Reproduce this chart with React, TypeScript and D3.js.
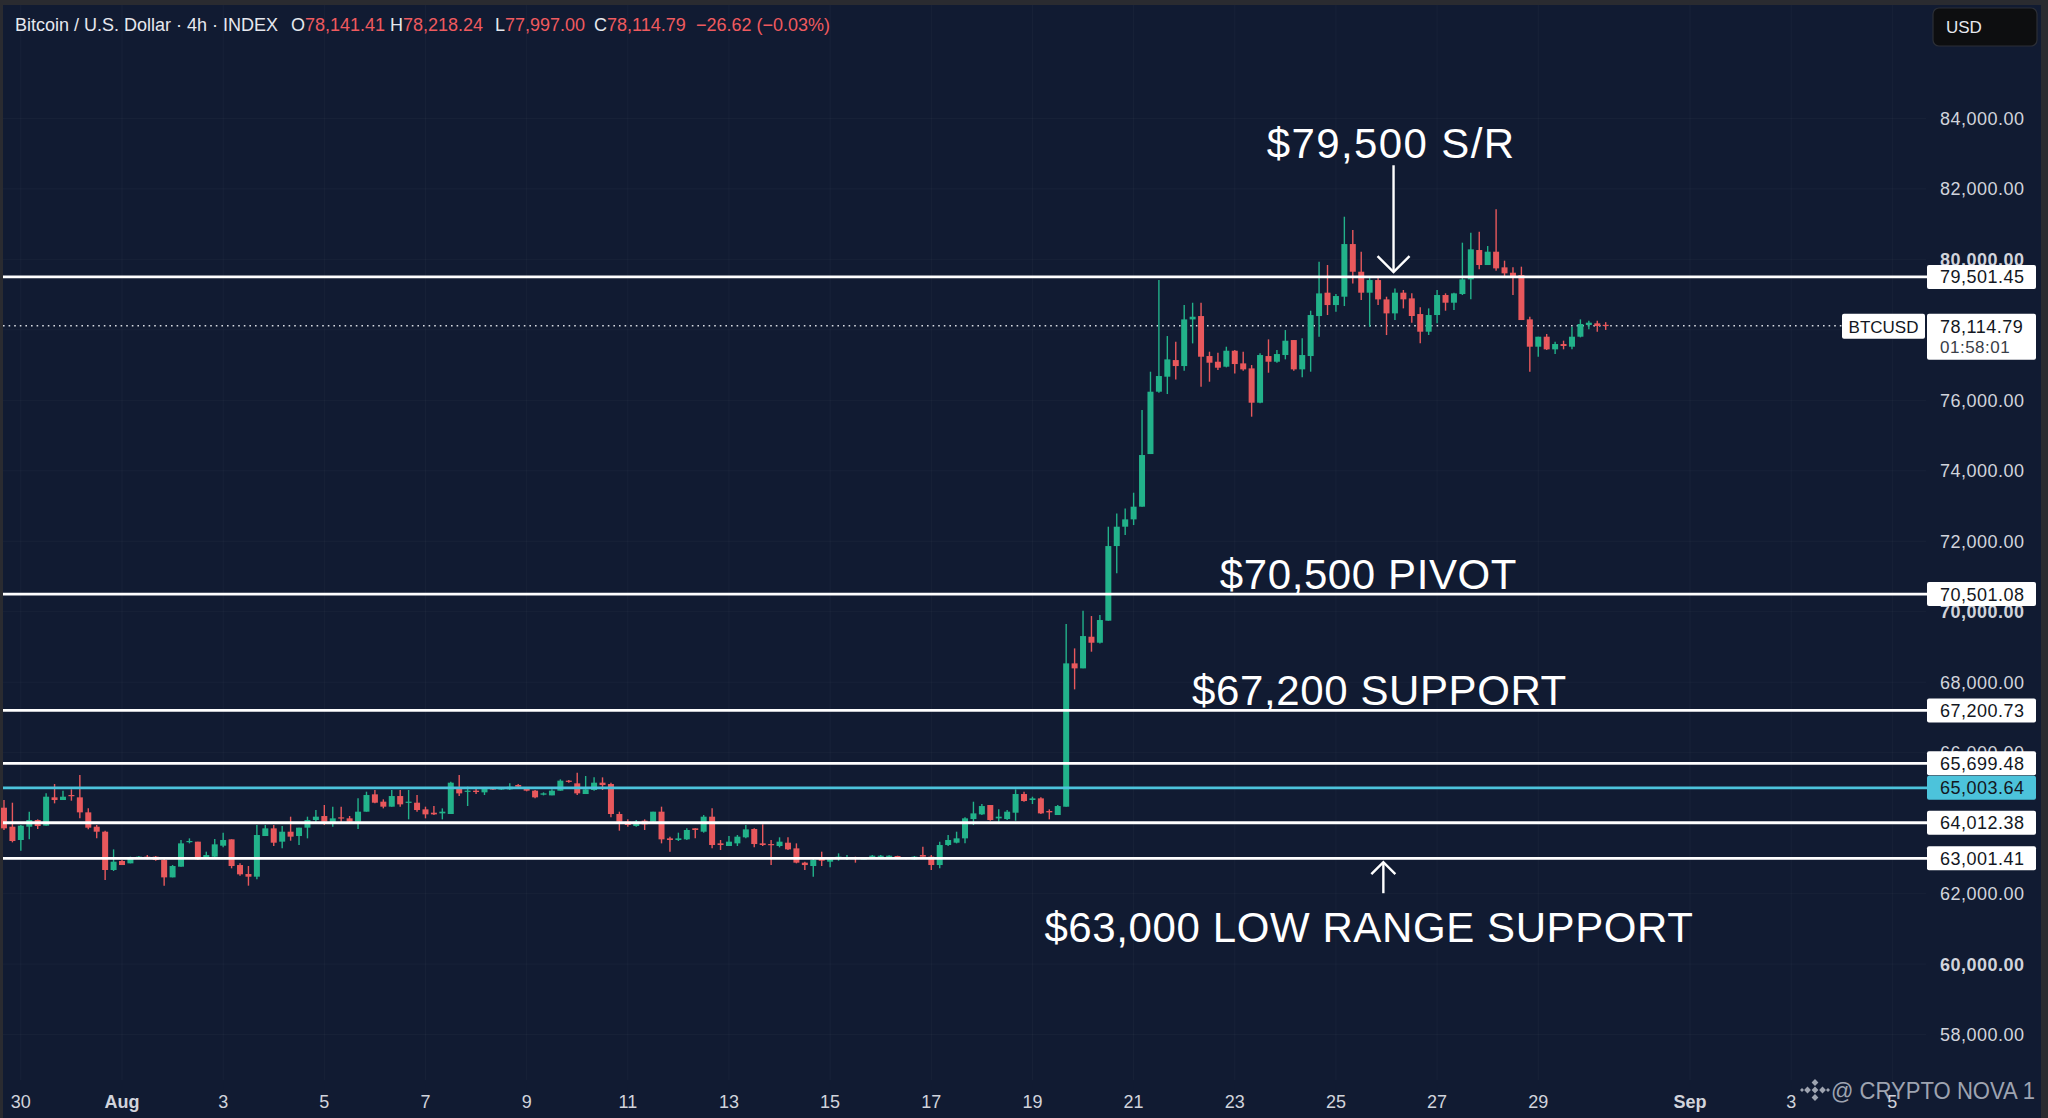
import { useEffect, useRef } from "react";
import * as d3 from "d3";

const W = 2048;
const H = 1118;

// first 4h candle on screen
const firstCandle = new Date(2024, 6, 29, 16);
const candleHours = 4;

// [open, high, low, close]
const ohlc: [number, number, number, number][] = [
  [64439, 64657, 63806, 63853], [63900, 64581, 63456, 63494], [63522, 63948, 63219, 63929], [63900, 64326, 63541, 64089],
  [64089, 64108, 63834, 63919], [63929, 64846, 63929, 64751], [64733, 65111, 64562, 64657], [64657, 64922, 64657, 64751],
  [64799, 64960, 64638, 64770], [64733, 65366, 64137, 64307], [64307, 64420, 63824, 63872], [63900, 63948, 63569, 63758],
  [63758, 63787, 62387, 62671], [62671, 63257, 62642, 62907], [62926, 62954, 62812, 62812], [62860, 63049, 62860, 63002],
  [63002, 63068, 62983, 63049], [63049, 63096, 62973, 63030], [63049, 63068, 62935, 62954], [62954, 63002, 62226, 62462],
  [62462, 62812, 62462, 62784], [62765, 63522, 62765, 63427], [63475, 63569, 63427, 63494], [63475, 63475, 62954, 62973],
  [63030, 63191, 63002, 63096], [63049, 63550, 63002, 63399], [63361, 63730, 63314, 63522], [63541, 63541, 62718, 62784],
  [62812, 62860, 62510, 62548], [62557, 62784, 62226, 62481], [62481, 63948, 62405, 63664], [63635, 63948, 63635, 63853],
  [63853, 63948, 63352, 63446], [63475, 63919, 63285, 63758], [63758, 64184, 63503, 63617], [63635, 63872, 63380, 63872],
  [63872, 64184, 63569, 64089], [64089, 64373, 63976, 64184], [64203, 64515, 63948, 64042], [64014, 64468, 63900, 64137],
  [64165, 64468, 64042, 64137], [64137, 64203, 64014, 64042], [64042, 64704, 63834, 64326], [64326, 64893, 64326, 64799],
  [64818, 64941, 64562, 64581], [64610, 64676, 64420, 64468], [64468, 64941, 64468, 64770], [64770, 64941, 64468, 64534],
  [64581, 64941, 64108, 64610], [64581, 64799, 64326, 64373], [64392, 64468, 64137, 64250], [64297, 64487, 64231, 64250],
  [64278, 64420, 64108, 64326], [64260, 65177, 64260, 65149], [64988, 65366, 64770, 64846], [64903, 65035, 64487, 64922],
  [64922, 64988, 64827, 64884], [64875, 65007, 64799, 64988], [64988, 65007, 64941, 64960], [64960, 65007, 64941, 64988],
  [64960, 65130, 64941, 65035], [65083, 65111, 65007, 65035], [64988, 65007, 64903, 64922], [64922, 64941, 64704, 64733],
  [64808, 64875, 64789, 64846], [64789, 64960, 64789, 64922], [64922, 65243, 64922, 65206], [65206, 65224, 65149, 65177],
  [65130, 65433, 64799, 64846], [64827, 65338, 64827, 64960], [64941, 65300, 64922, 65149], [65149, 65300, 64941, 65083],
  [65111, 65149, 64165, 64260], [64260, 64326, 63787, 64042], [64042, 64108, 63900, 63948], [63919, 64089, 63900, 64042],
  [64070, 64108, 63806, 63966], [64042, 64326, 64014, 64326], [64326, 64468, 63427, 63541], [63569, 63617, 63191, 63522],
  [63522, 63730, 63494, 63569], [63541, 63853, 63522, 63806], [63853, 63853, 63569, 63806], [63758, 64231, 63730, 64184],
  [64184, 64420, 63285, 63380], [63427, 63522, 63238, 63380], [63352, 63635, 63352, 63475], [63427, 63664, 63352, 63617],
  [63598, 63948, 63569, 63824], [63834, 63853, 63314, 63408], [63427, 63966, 63352, 63380], [63408, 63522, 62812, 63380],
  [63352, 63598, 63314, 63475], [63446, 63598, 63238, 63257], [63285, 63427, 62860, 62879], [62879, 62907, 62671, 62812],
  [62784, 63002, 62481, 62954], [63030, 63191, 62784, 62935], [62907, 63002, 62746, 62973], [63030, 63143, 62935, 63049],
  [63011, 63096, 62954, 63030], [63030, 63049, 62879, 63002], [62983, 63020, 62973, 63002], [63049, 63096, 63030, 63077],
  [63049, 63096, 63030, 63077], [63049, 63090, 63040, 63077], [63068, 63077, 63020, 63030], [63020, 63030, 62973, 62983],
  [62973, 63068, 62965, 63049], [63096, 63333, 63049, 63049], [63049, 63096, 62671, 62812], [62812, 63475, 62718, 63380],
  [63380, 63664, 63352, 63522], [63446, 63758, 63427, 63569], [63569, 64165, 63427, 64137], [64117, 64609, 63947, 64278],
  [64250, 64543, 64231, 64486], [64515, 64515, 64070, 64089], [64136, 64392, 64042, 64184], [64117, 64373, 64089, 64326],
  [64297, 64959, 64070, 64827], [64827, 64893, 64609, 64628], [64657, 64751, 64543, 64704], [64704, 64732, 64259, 64278],
  [64345, 64392, 64108, 64307], [64231, 64515, 64231, 64486], [64467, 69651, 64467, 68535], [68535, 68960, 67797, 68393],
  [68393, 70029, 68393, 69310], [69291, 69878, 68866, 69121], [69121, 69906, 69102, 69765], [69746, 72413, 69746, 71864],
  [71864, 72791, 71089, 72413], [72413, 72933, 72177, 72621], [72621, 73378, 72460, 72981], [72981, 75724, 72981, 74447],
  [74475, 76812, 74475, 76244], [76244, 79413, 76216, 76689], [76670, 77824, 76178, 77161], [77142, 77663, 76594, 76972],
  [76972, 78703, 76840, 78296], [78296, 78769, 77615, 78372], [78391, 78769, 76386, 77237], [77256, 77379, 76528, 77067],
  [77095, 77351, 76859, 76925], [76954, 77521, 76935, 77407], [77407, 77427, 76764, 77029], [77048, 77379, 76840, 76878],
  [76906, 77001, 75535, 75932], [75932, 77332, 75913, 77285], [77256, 77729, 76783, 77095], [77095, 77427, 77067, 77313],
  [77285, 77994, 77162, 77691], [77710, 77710, 76840, 76878], [76878, 77758, 76651, 77285], [77256, 78543, 76812, 78420],
  [78391, 79933, 77805, 79034], [79054, 79839, 78420, 78703], [78703, 79016, 78514, 78959], [78940, 81210, 78675, 80434],
  [80434, 80832, 79318, 79649], [79649, 80217, 78845, 79054], [79054, 79489, 78089, 79413], [79413, 79489, 78703, 78864],
  [78864, 78940, 77852, 78467], [78467, 79176, 78278, 79054], [79054, 79130, 78609, 78865], [78893, 79035, 78203, 78392],
  [78448, 78638, 77616, 77947], [77947, 78609, 77853, 78420], [78420, 79130, 78184, 78988], [78988, 79035, 78543, 78770],
  [78770, 79054, 78562, 79035], [79016, 80473, 78988, 79432], [79432, 80756, 78865, 80284], [80265, 80785, 79716, 79839],
  [79839, 80378, 79839, 80217], [80217, 81419, 79678, 79744], [79773, 79962, 79508, 79603], [79621, 79773, 78988, 79527],
  [79555, 79792, 78278, 78278], [78297, 78373, 76812, 77521], [77521, 77805, 77238, 77805], [77805, 77881, 77427, 77446],
  [77446, 77663, 77313, 77597], [77597, 77692, 77446, 77541], [77521, 78089, 77446, 77805], [77805, 78297, 77786, 78165],
  [78137, 78260, 78014, 78203], [78184, 78260, 77947, 78108], [78141.41, 78218.24, 77997.0, 78114.79],
];

// horizontal levels drawn on the chart
const levels = [79501.45, 70501.08, 67200.73, 65699.48, 64012.38, 63001.41];
const cyanLevel = 65003.64;
const lastPrice = 78114.79;
const countdown = "01:58:01";

const priceTicks = [58000, 60000, 62000, 64000, 66000, 68000, 70000, 72000, 74000, 76000, 78000, 80000, 82000, 84000];
const boldPriceTicks = [60000, 70000, 80000];

const dateTicks = [
  new Date(2024, 6, 30), new Date(2024, 7, 1), new Date(2024, 7, 3), new Date(2024, 7, 5), new Date(2024, 7, 7),
  new Date(2024, 7, 9), new Date(2024, 7, 11), new Date(2024, 7, 13), new Date(2024, 7, 15), new Date(2024, 7, 17),
  new Date(2024, 7, 19), new Date(2024, 7, 21), new Date(2024, 7, 23), new Date(2024, 7, 25), new Date(2024, 7, 27),
  new Date(2024, 7, 29), new Date(2024, 8, 1), new Date(2024, 8, 3), new Date(2024, 8, 5),
];
const dateLabels = ["30", "Aug", "3", "5", "7", "9", "11", "13", "15", "17", "19", "21", "23", "25", "27", "29", "Sep", "3", "5"];
const boldDateLabels = ["Aug", "Sep"];

const headerParts = [
  { label: "O", value: "78,141.41" },
  { label: "H", value: "78,218.24" },
  { label: "L", value: "77,997.00" },
  { label: "C", value: "78,114.79" },
];
const headerChange = "\u221226.62 (\u22120.03%)";

const annotations = [
  { text: "$79,500 S/R", date: new Date(2024, 7, 26, 2, 10), price: 82875 },
  { text: "$70,500 PIVOT", date: new Date(2024, 7, 25, 15, 25), price: 70640 },
  { text: "$67,200 SUPPORT", date: new Date(2024, 7, 25, 20, 40), price: 67350 },
  { text: "$63,000 LOW RANGE SUPPORT", date: new Date(2024, 7, 25, 15, 40), price: 60630 },
];
const arrows = [
  { date: new Date(2024, 7, 26, 3, 20), from: 82670, to: 79640 },
  { date: new Date(2024, 7, 25, 22, 30), from: 62012, to: 62892 },
];

const BG = "#111b32";
const UP = "#22b28a";
const DOWN = "#e8585c";
const CYAN = "#4cc3db";
const AXIS_TEXT = "#d1d4dc";
const FONT = "'Liberation Sans', Arial, sans-serif";

export default function App() {
  const svgRef = useRef<SVGSVGElement>(null);

  useEffect(() => {
    if (!svgRef.current) return;
    const svg = d3.select(svgRef.current);
    svg.selectAll("*").remove();

    const x = d3.scaleTime().domain([new Date(2024, 7, 1), new Date(2024, 8, 1)]).range([122, 1690]);
    const y = d3.scaleLinear().domain([58000, 84000]).range([1034.6, 118.4]);

    // frame + background
    svg.append("rect").attr("width", W).attr("height", H).attr("fill", "#2a2b30");
    svg.append("rect").attr("x", 3).attr("y", 5).attr("width", 2038).attr("height", H - 5).attr("fill", BG);

    // faint grid
    const grid = svg.append("g").attr("stroke", "#ffffff").attr("stroke-opacity", 0.03);
    grid.selectAll("line.v").data(dateTicks).enter().append("line")
      .attr("x1", (d) => x(d)).attr("x2", (d) => x(d)).attr("y1", 5).attr("y2", 1080);
    grid.selectAll("line.h").data(priceTicks).enter().append("line")
      .attr("x1", 3).attr("x2", 1926).attr("y1", (d) => y(d)).attr("y2", (d) => y(d));

    // last price dotted line
    svg.append("line")
      .attr("x1", 3).attr("x2", 1842).attr("y1", y(lastPrice)).attr("y2", y(lastPrice))
      .attr("stroke", "#d8dbe2").attr("stroke-width", 1.6).attr("stroke-dasharray", "1.6,4");

    // candles
    const candles = ohlc.map((c, i) => ({
      t: d3.timeHour.offset(firstCandle, i * candleHours),
      o: c[0], h: c[1], l: c[2], c: c[3],
    }));
    const cg = svg.append("g");
    const node = cg.selectAll("g").data(candles).enter().append("g");
    node.append("line")
      .attr("x1", (d) => x(d.t)).attr("x2", (d) => x(d.t))
      .attr("y1", (d) => y(d.h)).attr("y2", (d) => y(d.l))
      .attr("stroke", (d) => (d.c >= d.o ? UP : DOWN)).attr("stroke-width", 1.4);
    node.append("rect")
      .attr("x", (d) => x(d.t) - 3).attr("width", 6)
      .attr("y", (d) => y(Math.max(d.o, d.c)))
      .attr("height", (d) => Math.max(1.2, Math.abs(y(d.o) - y(d.c))))
      .attr("fill", (d) => (d.c >= d.o ? UP : DOWN));

    // level lines
    svg.selectAll("line.level").data(levels).enter().append("line")
      .attr("x1", 3).attr("x2", 1927).attr("y1", (d) => y(d)).attr("y2", (d) => y(d))
      .attr("stroke", "#ffffff").attr("stroke-width", 2.8);
    svg.append("line")
      .attr("x1", 3).attr("x2", 1927).attr("y1", y(cyanLevel)).attr("y2", y(cyanLevel))
      .attr("stroke", CYAN).attr("stroke-width", 2.8);

    // annotations
    svg.selectAll("text.ann").data(annotations).enter().append("text")
      .attr("x", (d) => x(d.date)).attr("y", (d) => y(d.price))
      .attr("text-anchor", "middle")
      .attr("fill", "#ffffff").attr("font-family", FONT).attr("font-size", 42)
      .attr("letter-spacing", (_d, i) => (i === 0 ? 1.4 : 0.6))
      .text((d) => d.text);

    arrows.forEach((a) => {
      const ax = x(a.date);
      const y0 = y(a.from);
      const y1 = y(a.to);
      const dir = y1 > y0 ? 1 : -1;
      const size = dir > 0 ? 16 : 12;
      const g = svg.append("g").attr("stroke", "#ffffff").attr("stroke-width", 2.4).attr("fill", "none");
      g.append("line").attr("x1", ax).attr("x2", ax).attr("y1", y0).attr("y2", y1);
      g.append("path").attr("d", `M${ax - size},${y1 - dir * size} L${ax},${y1} L${ax + size},${y1 - dir * size}`);
    });

    // price axis ticks
    svg.selectAll("text.pt").data(priceTicks).enter().append("text")
      .attr("x", 1940).attr("y", (d) => y(d)).attr("dy", "0.36em")
      .attr("fill", AXIS_TEXT).attr("font-family", FONT).attr("font-size", 18)
      .attr("letter-spacing", 0.5)
      .attr("font-weight", (d) => (boldPriceTicks.includes(d) ? 700 : 400))
      .text((d) => d3.format(",.2f")(d));

    // level labels
    const fmt = d3.format(",.2f");
    const boxes = [...levels.map((v) => ({ v, fill: "#ffffff" })), { v: cyanLevel, fill: CYAN }];
    boxes.forEach((b) => {
      const cy = y(b.v);
      svg.append("rect").attr("x", 1927).attr("y", cy - 12).attr("width", 109).attr("height", 24)
        .attr("rx", 2).attr("fill", b.fill);
      svg.append("text").attr("x", 1940).attr("y", cy).attr("dy", "0.36em")
        .attr("fill", "#131722").attr("font-family", FONT).attr("font-size", 18).attr("letter-spacing", 0.5)
        .text(fmt(b.v));
    });

    // last price labels
    const ly = y(lastPrice);
    svg.append("rect").attr("x", 1842).attr("y", ly - 12).attr("width", 83).attr("height", 25)
      .attr("rx", 2).attr("fill", "#ffffff");
    svg.append("text").attr("x", 1883.5).attr("y", ly + 1).attr("dy", "0.36em").attr("text-anchor", "middle")
      .attr("fill", "#131722").attr("font-family", FONT).attr("font-size", 17).text("BTCUSD");
    svg.append("rect").attr("x", 1927).attr("y", ly - 12).attr("width", 109).attr("height", 46)
      .attr("rx", 2).attr("fill", "#ffffff");
    svg.append("text").attr("x", 1940).attr("y", ly + 1).attr("dy", "0.36em")
      .attr("fill", "#131722").attr("font-family", FONT).attr("font-size", 18).attr("letter-spacing", 0.5)
      .text(fmt(lastPrice));
    svg.append("text").attr("x", 1940).attr("y", ly + 21).attr("dy", "0.36em")
      .attr("fill", "#3a3e48").attr("font-family", FONT).attr("font-size", 17).attr("letter-spacing", 0.5)
      .text(countdown);

    // date axis
    svg.selectAll("text.dt").data(dateTicks).enter().append("text")
      .attr("x", (d) => x(d)).attr("y", 1102).attr("dy", "0.36em").attr("text-anchor", "middle")
      .attr("fill", AXIS_TEXT).attr("font-family", FONT).attr("font-size", 18)
      .attr("font-weight", (_d, i) => (boldDateLabels.includes(dateLabels[i]) ? 700 : 400))
      .text((_d, i) => dateLabels[i]);

    // header legend
    const header = svg.append("text").attr("x", 15).attr("y", 31)
      .attr("font-family", FONT).attr("font-size", 18).attr("fill", "#e6e8ee");
    header.append("tspan").text("Bitcoin / U.S. Dollar \u00b7 4h \u00b7 INDEX");
    const partX = [291, 390, 495, 594];
    headerParts.forEach((p, i) => {
      header.append("tspan").attr("x", partX[i]).attr("fill", "#e6e8ee").text(p.label);
      header.append("tspan").attr("fill", "#ef5a5f").text(p.value);
    });
    header.append("tspan").attr("x", 696).attr("fill", "#ef5a5f").text(headerChange);

    // currency button
    svg.append("rect").attr("x", 1933).attr("y", 8).attr("width", 104).attr("height", 38).attr("rx", 6)
      .attr("fill", "#0d0e10").attr("stroke", "#2c2f36").attr("stroke-width", 1.2);
    svg.append("text").attr("x", 1946).attr("y", 27).attr("dy", "0.36em")
      .attr("fill", "#e6e8ee").attr("font-family", FONT).attr("font-size", 17).text("USD");

    // watermark
    const wm = svg.append("g").attr("fill", "#b7bcc7").attr("opacity", 0.85);
    const lx = 1815;
    const lyW = 1090;
    const diamond = (cx: number, cy: number, r: number) =>
      `M${cx},${cy - r} L${cx + r},${cy} L${cx},${cy + r} L${cx - r},${cy} Z`;
    wm.append("path").attr("d", diamond(lx, lyW, 3.4));
    [[0, -7.5], [7.5, 0], [0, 7.5], [-7.5, 0]].forEach(([dx, dy]) => {
      wm.append("path").attr("d", diamond(lx + dx, lyW + dy, 3.4));
    });
    wm.append("path").attr("d", diamond(lx - 13, lyW, 2));
    wm.append("path").attr("d", diamond(lx + 13, lyW, 2));
    wm.append("text").attr("x", 1831).attr("y", lyW).attr("dy", "0.36em")
      .attr("font-family", FONT).attr("font-size", 24)
      .attr("textLength", 204).attr("lengthAdjust", "spacingAndGlyphs")
      .text("@ CRYPTO NOVA 1");
  }, []);

  return (
    <div style={{ position: "fixed", left: 0, top: 0, width: W, height: H, overflow: "hidden" }}>
      <svg ref={svgRef} width={W} height={H} style={{ display: "block" }} />
    </div>
  );
}
